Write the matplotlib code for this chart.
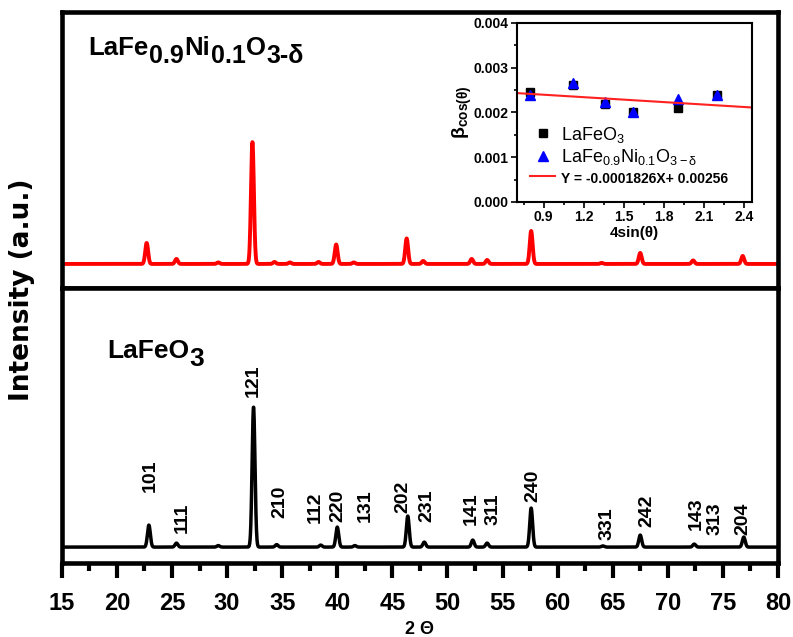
import numpy as np
import matplotlib
matplotlib.use("Agg")
import matplotlib.pyplot as plt

plt.rcParams["font.family"] = ["Liberation Sans", "DejaVu Sans"]

# XRD peaks of LaFeO3 (2 theta, relative intensity)
lfo_pos = [22.9, 25.4, 29.2, 32.4, 34.5, 38.5, 40.0, 41.6, 46.4, 47.9,
           52.3, 53.6, 57.6, 64.1, 67.5, 72.4, 76.9]
lfo_int = [220, 40, 15, 1400, 25, 20, 200, 15, 310, 50,
           70, 40, 390, 12, 120, 30, 100]

# XRD peaks of LaFe0.9Ni0.1O3-d
lfn_pos = [22.7, 25.4, 29.2, 32.3, 34.3, 35.7, 38.3, 39.9, 41.5, 46.3,
           47.8, 52.2, 53.6, 57.6, 64.0, 67.5, 72.3, 76.8]
lfn_int = [210, 50, 15, 1220, 20, 15, 20, 195, 15, 255,
           30, 50, 40, 330, 10, 110, 35, 80]

# Miller indices and where the labels sit
hkl = ["101", "111", "121", "210", "112", "220", "131", "202", "231",
       "141", "311", "240", "331", "242", "143", "313", "204"]
hkl_x = [23.0, 25.9, 32.35, 34.8, 38.0, 40.06, 42.5, 46.0, 48.1,
         52.2, 54.1, 57.75, 64.5, 68.1, 72.6, 74.3, 76.8]
hkl_y = [550, 140, 1500, 290, 240, 250, 250, 340, 250,
         220, 220, 450, 70, 200, 170, 120, 120]

# Williamson-Hall inset
wh_x = [0.80, 1.12, 1.36, 1.57, 1.91, 2.20]
wh_lfo = [0.00245, 0.00262, 0.00219, 0.00202, 0.00210, 0.00238]
wh_lfn = [0.00238, 0.00265, 0.00224, 0.00202, 0.00229, 0.00238]
fit_slope = -0.0001826
fit_icpt = 0.00256


def pattern(tt, pos, inten, sigma=0.13):
    y = np.zeros_like(tt)
    for p, h in zip(pos, inten):
        y += h * np.exp(-0.5 * ((tt - p) / sigma) ** 2)
    return y


def formula(ax, x, y, parts, size, subsize, drop, gap=0.0):
    # chain pieces of text, subscripts dropped by `drop` points
    prev = ax.text(x, y, parts[0][0], transform=ax.transAxes, fontsize=size,
                   fontweight="bold", va="bottom")
    low = False
    for s, sub in parts[1:]:
        dy = 0
        if sub and not low:
            dy = -drop
        elif not sub and low:
            dy = drop
        prev = ax.annotate(s, xy=(1, 0), xycoords=prev, xytext=(gap, dy),
                           textcoords="offset points", va="bottom",
                           fontsize=subsize if sub else size,
                           fontweight="bold")
        low = sub
    return prev


tt = np.linspace(15, 80, 4000)

fig = plt.figure(figsize=(7.93, 6.37), dpi=100)
ax_top = fig.add_axes([0.078, 0.548, 0.903, 0.433])
ax_bot = fig.add_axes([0.078, 0.116, 0.903, 0.432])

ax_top.plot(tt, pattern(tt, lfn_pos, lfn_int), color="#ff0000", lw=2.8)
ax_bot.plot(tt, pattern(tt, lfo_pos, lfo_int), color="black", lw=2.5)

ax_top.set_ylim(-240, 2520)
ax_bot.set_ylim(-160, 2590)
for ax in (ax_top, ax_bot):
    ax.set_xlim(15, 80)
    ax.set_yticks([])
    for s in ax.spines.values():
        s.set_linewidth(3.3)

ax_top.set_xticks([])
ax_bot.set_xticks(np.arange(15, 81, 5))
ax_bot.set_xticks(np.arange(17.5, 80, 5), minor=True)
ax_bot.tick_params(axis="x", which="major", direction="out", length=11,
                   width=3, labelsize=17, pad=10)
ax_bot.tick_params(axis="x", which="minor", direction="out", length=6, width=3)
for lab in ax_bot.get_xticklabels():
    lab.set_fontweight("bold")
ax_bot.set_xlabel("2 Θ", fontsize=13, fontweight="bold", labelpad=4)

for lab, x, y in zip(hkl, hkl_x, hkl_y):
    ax_bot.text(x, y, lab, rotation=90, ha="center", va="bottom",
                fontsize=14, fontweight="bold")

formula(ax_top, 0.037, 0.828,
        [("LaFe", False), ("0.9", True), ("Ni", False), ("0.1", True),
         ("O", False), ("3-δ", True)], 18.5, 18, 6, gap=0.4)
formula(ax_bot, 0.064, 0.727, [("LaFeO", False), ("3", True)], 19, 19, 6)

fig.text(0.028, 0.545, "Intensity (a.u.)", rotation=90, ha="center",
         va="center", fontsize=19, fontweight="bold", family="DejaVu Sans")

# inset
ins = fig.add_axes([0.652, 0.683, 0.296, 0.281])
ins.plot(wh_x, wh_lfo, "s", color="black", ms=6, label=r"LaFeO$\mathregular{_3}$")
ins.plot(wh_x, wh_lfn, "^", color="#0000ff", ms=7,
         label=r"LaFe$\mathregular{_{0.9}}$Ni$\mathregular{_{0.1}}$O$\mathregular{_{3-\delta}}$")
xf = np.array([0.7, 2.46])
ins.plot(xf, fit_slope * xf + fit_icpt, color="#ff2020", lw=1.5,
         label="Y = -0.0001826X+ 0.00256")
ins.set_xlim(0.7, 2.46)
ins.set_ylim(0, 0.004)
ins.set_xticks([0.9, 1.2, 1.5, 1.8, 2.1, 2.4])
ins.set_xticks(np.arange(0.75, 2.46, 0.15), minor=True)
ins.set_yticks([0, 0.001, 0.002, 0.003, 0.004])
ins.set_yticks([0.0005, 0.0015, 0.0025, 0.0035], minor=True)
ins.set_yticklabels(["0.000", "0.001", "0.002", "0.003", "0.004"])
ins.tick_params(which="major", direction="out", length=4, width=1.2,
                labelsize=10, pad=2)
ins.tick_params(which="minor", direction="out", length=2.5, width=1.2)
for lab in ins.get_xticklabels() + ins.get_yticklabels():
    lab.set_fontweight("bold")
for s in ins.spines.values():
    s.set_linewidth(1.5)
ins.set_xlabel("4sin(θ)", fontsize=11, fontweight="bold", labelpad=1)
ins.set_ylabel(r"$\mathregular{\beta_{cos(\theta)}}$", fontsize=14,
               fontweight="bold", labelpad=0)
leg = ins.legend(loc="lower left", bbox_to_anchor=(0.025, 0.05), frameon=False,
                 fontsize=13, handlelength=1.4, handletextpad=0.3,
                 labelspacing=0.15, borderaxespad=0)
leg.get_texts()[2].set_fontweight("bold")
leg.get_texts()[2].set_fontsize(10)
leg.legend_handles[2].set_linewidth(1.5)

fig.savefig("out.png", dpi=100)
